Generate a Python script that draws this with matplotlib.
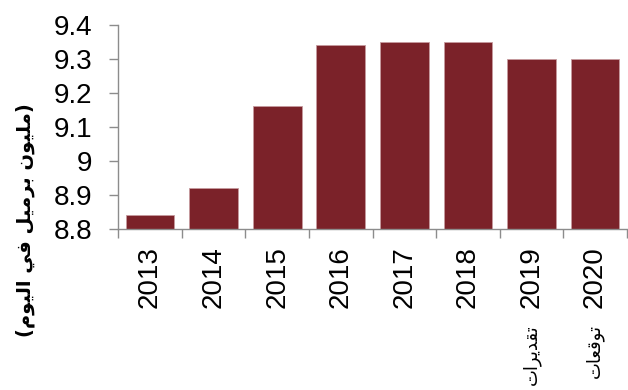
import matplotlib
matplotlib.use('Agg')
import matplotlib.pyplot as plt

years = ['2013', '2014', '2015', '2016', '2017', '2018', '2019', '2020']
values = [8.84, 8.92, 9.16, 9.34, 9.35, 9.35, 9.30, 9.30]
notes = ['', '', '', '', '', '', 'تقديرات', 'توقعات']
y_label = '(مليون برميل في اليوم)'
y_ticks = [8.8, 8.9, 9.0, 9.1, 9.2, 9.3, 9.4]
y_tick_labels = ['8.8', '8.9', '9', '9.1', '9.2', '9.3', '9.4']

# arabic letters -> (isolated, final, initial, medial); None = no left join
forms = {
    'ا': ('\uFE8D', '\uFE8E', None, None),
    'ب': ('\uFE8F', '\uFE90', '\uFE91', '\uFE92'),
    'ت': ('\uFE95', '\uFE96', '\uFE97', '\uFE98'),
    'د': ('\uFEA9', '\uFEAA', None, None),
    'ر': ('\uFEAD', '\uFEAE', None, None),
    'ع': ('\uFEC9', '\uFECA', '\uFECB', '\uFECC'),
    'ف': ('\uFED1', '\uFED2', '\uFED3', '\uFED4'),
    'ق': ('\uFED5', '\uFED6', '\uFED7', '\uFED8'),
    'ل': ('\uFEDD', '\uFEDE', '\uFEDF', '\uFEE0'),
    'م': ('\uFEE1', '\uFEE2', '\uFEE3', '\uFEE4'),
    'ن': ('\uFEE5', '\uFEE6', '\uFEE7', '\uFEE8'),
    'و': ('\uFEED', '\uFEEE', None, None),
    'ي': ('\uFEF1', '\uFEF2', '\uFEF3', '\uFEF4'),
}

def ar(text):
    out = []
    for i, c in enumerate(text):
        if c not in forms:
            out.append(c)
            continue
        prev = text[i-1] if i > 0 else ''
        nxt = text[i+1] if i < len(text) - 1 else ''
        join_prev = prev in forms and forms[prev][2] is not None
        join_next = nxt in forms and forms[c][2] is not None
        iso, fin, ini, med = forms[c]
        if join_prev and join_next: out.append(med)
        elif join_prev: out.append(fin)
        elif join_next: out.append(ini)
        else: out.append(iso)
    s = ''.join(out[::-1])
    s = s.replace('(', '\0').replace(')', '(').replace('\0', ')')
    return s

plt.rcParams['font.family'] = ['Liberation Sans', 'DejaVu Sans']
grey = '#8c8c8c'

fig = plt.figure(figsize=(6.28, 3.90), dpi=100)
ax = fig.add_axes([0.1884, 0.4141, 0.8096, 0.5218])

x = list(range(len(years)))
ax.bar(x, values, width=0.766, color='#7b2229', edgecolor='#c69a9e', linewidth=0.6, zorder=2)

ax.set_ylim(8.8, 9.4)
ax.set_xlim(-0.5, len(years) - 0.5)
ax.set_yticks(y_ticks)
ax.set_yticklabels(y_tick_labels, fontsize=20)
ax.tick_params(axis='y', direction='out', length=6.5, width=1, color=grey, pad=12)

ax.set_xticks(x)
ax.set_xticklabels(years, rotation=90, fontsize=20)
ax.tick_params(axis='x', which='major', length=0, pad=13)
ax.set_xticks([i - 0.5 for i in x] + [len(years) - 0.5], minor=True)
ax.tick_params(axis='x', which='minor', direction='out', length=6.5, width=1, color=grey)

for side in ['top', 'right']:
    ax.spines[side].set_visible(False)
for side in ['left', 'bottom']:
    ax.spines[side].set_color(grey)
    ax.spines[side].set_linewidth(1.0)

for i, n in enumerate(notes):
    if n:
        ax.annotate(ar(n), xy=(i, 0), xycoords=('data', 'axes fraction'),
                    xytext=(0, -69), textcoords='offset points',
                    rotation=90, ha='center', va='top', fontsize=13,
                    family='DejaVu Sans')

fig.text(25/628, 1 - 220/390, ar(y_label), rotation=90, ha='center', va='center',
         fontsize=14, fontweight='bold', family='DejaVu Sans')

fig.savefig('out.png', dpi=100)
